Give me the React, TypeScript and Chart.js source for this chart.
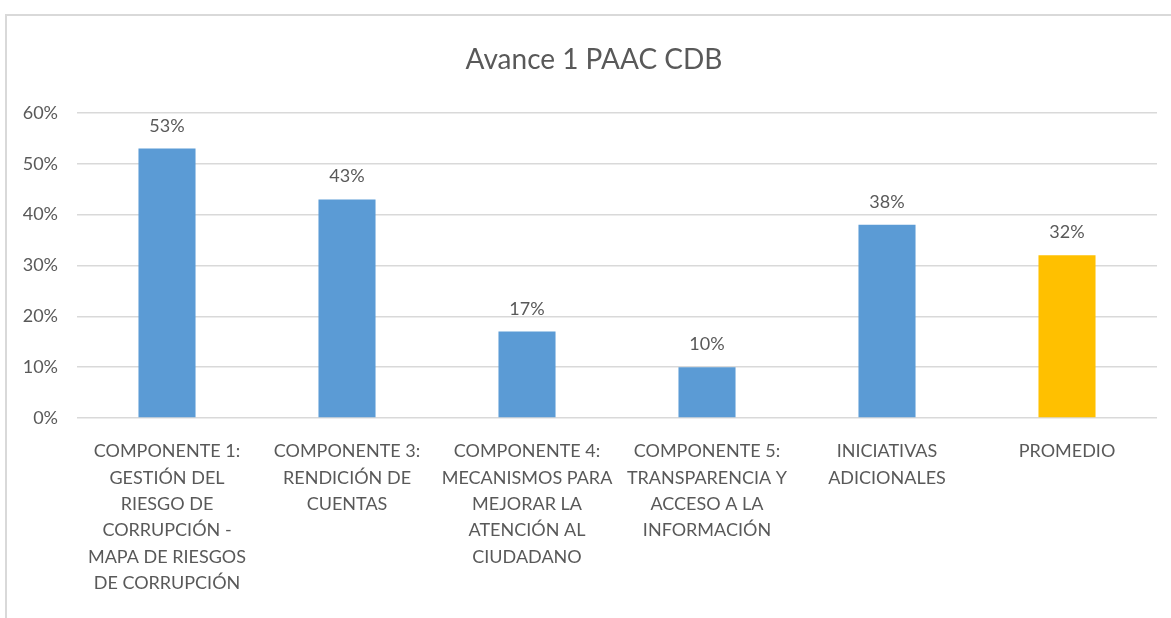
import React, { useEffect, useRef } from "react";
import { Chart, registerables } from "chart.js";

Chart.register(...registerables);

const titleText = "Avance 1 PAAC CDB";
const categories: string[][] = [
  ["COMPONENTE 1:", "GESTIÓN DEL", "RIESGO DE", "CORRUPCIÓN -", "MAPA DE RIESGOS", "DE CORRUPCIÓN"],
  ["COMPONENTE 3:", "RENDICIÓN DE", "CUENTAS"],
  ["COMPONENTE 4:", "MECANISMOS PARA", "MEJORAR LA", "ATENCIÓN AL", "CIUDADANO"],
  ["COMPONENTE 5:", "TRANSPARENCIA Y", "ACCESO A LA", "INFORMACIÓN"],
  ["INICIATIVAS", "ADICIONALES"],
  ["PROMEDIO"],
];
const values = [53, 43, 17, 10, 38, 32];
const barColors = ["#5B9BD5", "#5B9BD5", "#5B9BD5", "#5B9BD5", "#5B9BD5", "#FFC000"];
const yTicks = [0, 10, 20, 30, 40, 50, 60];

const FONT = "Lato, 'Open Sans', sans-serif";
const GRAY = "#595959";

const overlayPlugin = {
  id: "overlay",
  afterDatasetsDraw(chart: any) {
    const ctx = chart.ctx;
    const meta = chart.getDatasetMeta(0);
    ctx.save();
    ctx.fillStyle = GRAY;
    ctx.font = `18px ${FONT}`;
    ctx.textAlign = "center";
    ctx.textBaseline = "alphabetic";
    meta.data.forEach((bar: any, i: number) => {
      ctx.fillText(values[i] + "%", bar.x, bar.y - 17);
    });
    ctx.font = `28px ${FONT}`;
    ctx.textBaseline = "middle";
    ctx.fillText(titleText, 594, 60);
    ctx.restore();
  },
};

export default function App() {
  const ref = useRef<HTMLCanvasElement | null>(null);
  useEffect(() => {
    document.body.style.margin = "0";
    if (!ref.current) return;
    const chart = new Chart(ref.current, {
      type: "bar",
      data: {
        labels: categories,
        datasets: [
          {
            data: values,
            backgroundColor: barColors,
            barPercentage: 0.317,
            categoryPercentage: 1,
          },
        ],
      },
      options: {
        animation: false,
        responsive: false,
        layout: { padding: { top: 113, right: 14, left: 0, bottom: 0 } },
        plugins: { legend: { display: false }, tooltip: { enabled: false }, title: { display: false } },
        scales: {
          x: {
            grid: { display: false },
            border: { display: false },
            ticks: {
              color: GRAY,
              font: { family: FONT, size: 18, lineHeight: 1.47 },
              maxRotation: 0,
              minRotation: 0,
              autoSkip: false,
              padding: 12,
            },
            afterFit(scale: any) {
              scale.height = 200;
            },
          },
          y: {
            min: 0,
            max: 60,
            afterBuildTicks(scale: any) {
              scale.ticks = yTicks.map((v) => ({ value: v }));
            },
            grid: { color: "#D9D9D9", drawTicks: false, lineWidth: 1.5 },
            border: { display: false },
            ticks: {
              color: GRAY,
              font: { family: FONT, size: 18 },
              padding: 19,
              callback: (v: any) => v + "%",
            },
            afterFit(scale: any) {
              scale.width = 77;
            },
          },
        },
      },
      plugins: [overlayPlugin],
    });
    return () => chart.destroy();
  }, []);
  return (
    <div style={{ position: "relative", width: 1171, height: 618, overflow: "hidden", background: "#fff" }}>
      <div
        style={{
          position: "absolute",
          left: 5,
          top: 14,
          width: 1200,
          height: 700,
          border: "2px solid #D9D9D9",
          boxSizing: "border-box",
        }}
      />
      <canvas ref={ref} width={1171} height={618} style={{ position: "absolute", left: 0, top: 0 }} />
    </div>
  );
}
